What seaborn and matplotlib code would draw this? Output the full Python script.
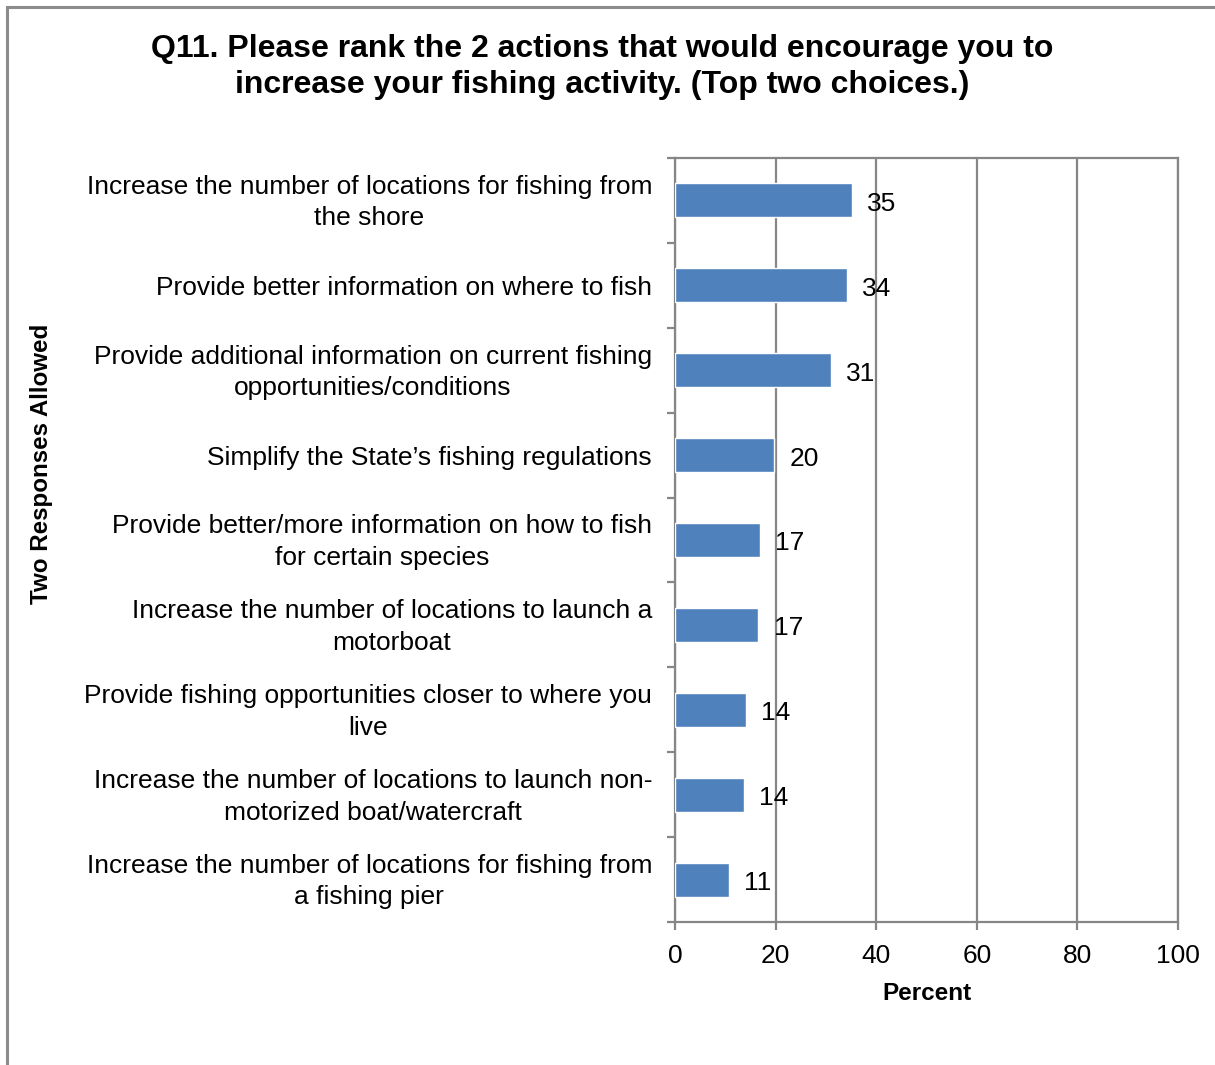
import matplotlib
matplotlib.use("Agg")
import matplotlib.pyplot as plt
from matplotlib.patches import Rectangle
from matplotlib.ticker import FixedLocator
from matplotlib.transforms import ScaledTranslation
import seaborn as sns
import pandas as pd

# Survey responses (percent of respondents naming each action in their top two)
actions = [
    "Increase the number of locations for fishing from\nthe shore",
    "Provide better information on where to fish",
    "Provide additional information on current fishing\nopportunities/conditions",
    "Simplify the State\u2019s fishing regulations",
    "Provide better/more information on how to fish\nfor certain species",
    "Increase the number of locations to launch a\nmotorboat",
    "Provide fishing opportunities closer to where you\nlive",
    "Increase the number of locations to launch non-\nmotorized boat/watercraft",
    "Increase the number of locations for fishing from\na fishing pier",
]
percent = [35.2, 34.2, 31.0, 19.7, 16.9, 16.6, 14.1, 13.7, 10.7]
x_ticks = [0, 20, 40, 60, 80, 100]

title = ("Q11. Please rank the 2 actions that would encourage you to\n"
         "increase your fishing activity. (Top two choices.)")

sns.set_theme(style="white")
plt.rcParams["font.family"] = ["Liberation Sans", "DejaVu Sans"]
plt.rcParams["text.color"] = "black"

W, H = 1215, 1065
fig = plt.figure(figsize=(W / 100, H / 100), dpi=100)
ax = fig.add_axes([675 / W, 1 - 922 / H, (1178 - 675) / W, (922 - 158) / H])

df = pd.DataFrame({"action": actions, "percent": percent})
sns.barplot(data=df, x="percent", y="action", order=actions, orient="h",
            color="#4F81BD", saturation=1, width=0.4, ax=ax, zorder=3)

grey = "#868686"
ax.set_xlim(0, 100)
ax.set_ylim(len(actions) - 0.5, -0.5)
ax.set_xticks(x_ticks)
ax.xaxis.grid(True, color=grey, linewidth=1.6, zorder=0)
ax.yaxis.grid(False)
ax.set_axisbelow(True)
for s in ax.spines.values():
    s.set_visible(True)
    s.set_color(grey)
    s.set_linewidth(1.6)

# category labels sit at bar centres; tick marks go on the category boundaries
ax.tick_params(axis="y", which="major", length=0, pad=16.5, labelsize=19,
               labelcolor="black")
ax.yaxis.set_minor_locator(FixedLocator([i - 0.5 for i in range(len(actions) + 1)]))
ax.tick_params(axis="y", which="minor", left=True, length=6, width=1.6,
               color=grey, direction="out")
ax.tick_params(axis="x", which="major", bottom=True, length=6, width=1.6,
               color=grey, direction="out", pad=9.5, labelsize=19,
               labelcolor="black")
lift = ScaledTranslation(0, 3 / 72, fig.dpi_scale_trans)
for lbl in ax.get_yticklabels():
    lbl.set_multialignment("center")
    lbl.set_linespacing(1.4)
    if "\n" in lbl.get_text():
        lbl.set_transform(lbl.get_transform() + lift)

ax.set_ylabel("")
ax.set_xlabel("Percent", fontsize=17.5, fontweight="bold", labelpad=10.5,
              color="black")

# value labels just past the end of each bar
for i, v in enumerate(percent):
    ax.annotate(f"{v:.0f}", xy=(v, i), xytext=(11, -2.5),
                textcoords="offset points", ha="left", va="center",
                fontsize=19, color="black", zorder=4)

fig.text(602 / W, 1 - 67 / H, title, ha="center", va="center",
         fontsize=23, fontweight="bold", linespacing=1.3, color="black")
fig.text(42 / W, 1 - 464 / H, "Two Responses Allowed", rotation=90,
         ha="center", va="center", fontsize=17.4, fontweight="bold",
         color="black")

# outer chart frame
fig.add_artist(Rectangle((7 / W, -0.1), 1.2, 1 - 7 / H + 0.1,
                         transform=fig.transFigure, fill=False,
                         edgecolor="#8C8C8C", linewidth=2.2))

fig.savefig("out.png", dpi=100, facecolor="white")
